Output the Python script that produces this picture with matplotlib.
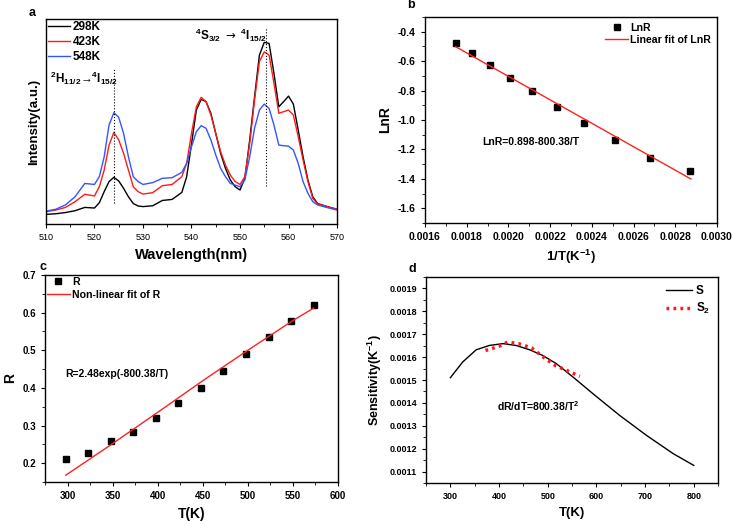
import matplotlib
matplotlib.use('Agg')
import matplotlib.pyplot as plt
from matplotlib.ticker import MultipleLocator, NullLocator, FormatStrFormatter

plt.rcParams['font.family'] = ['Liberation Sans', 'DejaVu Sans']
plt.rcParams['mathtext.fontset'] = 'custom'
plt.rcParams['mathtext.rm'] = 'Liberation Sans'
plt.rcParams['mathtext.bf'] = 'Liberation Sans:bold'
plt.rcParams['mathtext.default'] = 'regular'
plt.rcParams['axes.linewidth'] = 1.0

# --- panel a: emission spectra
wl = [510, 512, 514, 516, 518, 520, 521, 522, 523, 524, 525, 526, 527, 528, 529, 530,
      532, 534, 536, 538, 539, 540, 541, 542, 543, 544, 545, 546, 547, 548, 549, 550,
      551, 552, 553, 554, 555, 556, 557, 558, 559, 560, 561, 562, 563, 564, 565, 566, 568, 570]
i298 = [4.7, 5.0, 5.6, 6.5, 8.1, 7.8, 10.4, 15.8, 20.7, 22.8, 21.0, 17.4, 13.3, 10.0, 8.8, 8.5,
        8.9, 11.5, 12.0, 15.4, 23.0, 39.0, 55.6, 60.8, 59.7, 54.0, 44.2, 34.5, 27.2, 21.5, 18.2, 16.6,
        22.3, 41.0, 62.0, 82.4, 88.6, 88.1, 73.5, 57.2, 59.7, 62.4, 58.5, 45.9, 32.8, 21.5, 13.3, 10.0, 8.5, 7.2]
i423 = [6.0, 6.8, 8.1, 10.9, 14.5, 13.7, 18.2, 26.3, 38.5, 44.7, 41.0, 34.5, 26.3, 18.2, 15.8, 14.6,
        15.3, 18.7, 19.3, 23.1, 29.6, 44.2, 57.2, 61.8, 59.7, 53.2, 44.2, 35.3, 28.8, 23.9, 20.7, 19.3,
        23.1, 39.3, 60.5, 79.2, 84.0, 82.4, 68.6, 54.0, 54.8, 55.6, 53.2, 42.6, 31.2, 20.7, 12.5, 9.8, 8.5, 7.2]
i548 = [6.3, 7.2, 9.3, 13.3, 19.8, 19.3, 23.1, 32.8, 48.3, 54.3, 52.0, 44.2, 32.8, 23.1, 20.7, 19.3,
        20.2, 22.3, 22.6, 25.2, 29.6, 37.7, 45.0, 48.0, 46.7, 41.0, 33.7, 27.2, 23.1, 19.8, 19.0, 18.2,
        21.5, 32.8, 46.7, 55.6, 58.5, 56.4, 48.3, 38.5, 38.2, 38.0, 36.1, 29.6, 20.7, 15.0, 10.9, 9.3, 8.0, 6.8]

# --- panel b: ln R vs 1/T
inv_t = [0.001747, 0.001827, 0.001914, 0.002008, 0.002115, 0.002234, 0.002363, 0.002512, 0.002680, 0.002872]
ln_r = [-0.475, -0.547, -0.624, -0.712, -0.805, -0.910, -1.018, -1.136, -1.258, -1.349]
fit_inv_t = [0.001747, 0.002875]
fit_ln_r = [-0.502, -1.401]

# --- panel c: R vs T
temp = [298, 323, 348, 373, 398, 423, 448, 473, 498, 523, 548, 573]
ratio = [0.212, 0.226, 0.259, 0.283, 0.321, 0.360, 0.401, 0.446, 0.490, 0.534, 0.579, 0.621]
fit_temp = [298, 350, 400, 450, 500, 550, 573]
fit_ratio = [0.168, 0.252, 0.335, 0.419, 0.500, 0.579, 0.612]

# --- panel d: sensitivity
s_temp = [300, 325, 353, 380, 408, 435, 463, 490, 518, 552, 593, 648, 703, 758, 800]
s_val = [0.00151, 0.001578, 0.001632, 0.001651, 0.001659, 0.001651, 0.001632, 0.001607,
         0.001571, 0.001513, 0.00144, 0.001345, 0.001258, 0.001178, 0.001127]
s2_temp = [372, 400, 418, 440, 467, 491, 515, 542, 566]
s2_val = [0.001629, 0.001647, 0.001666, 0.001659, 0.00164, 0.0016, 0.001564, 0.001539, 0.001516]

fig = plt.figure(figsize=(7.32, 5.21), dpi=100)
ax_a = fig.add_axes([0.0628, 0.570, 0.3976, 0.3935])
ax_b = fig.add_axes([0.5806, 0.572, 0.3989, 0.3954])
ax_c = fig.add_axes([0.0615, 0.0749, 0.4002, 0.3973])
ax_d = fig.add_axes([0.582, 0.0729, 0.399, 0.3954])

def style_ticks(ax, size, bold=True):
    ax.tick_params(which='major', labelsize=size, direction='out', length=3, width=0.8)
    ax.tick_params(which='minor', direction='out', length=2, width=0.6)
    if bold:
        for lab in ax.get_xticklabels() + ax.get_yticklabels():
            lab.set_fontweight('bold')

note_kw = dict(fontsize=7.5, fontweight='bold', va='center')

# a
ax_a.plot(wl, i298, color='black', lw=1.0, label='298K')
ax_a.plot(wl, i423, color='#ff1a1a', lw=1.0, label='423K')
ax_a.plot(wl, i548, color='#3355ff', lw=1.0, label='548K')
ax_a.plot([524, 524], [10.4, 76], color='black', lw=0.8, ls=':')
ax_a.plot([555.3, 555.3], [18.7, 96], color='black', lw=0.8, ls=':')
ax_a.set_xlim(510, 570)
ax_a.set_ylim(0, 100)
ax_a.xaxis.set_major_locator(MultipleLocator(10))
ax_a.xaxis.set_minor_locator(MultipleLocator(5))
ax_a.yaxis.set_major_locator(NullLocator())
ax_a.set_xlabel('Wavelength(nm)', fontsize=10.5, fontweight='bold')
ax_a.set_ylabel('Intensity(a.u.)', fontsize=9.5, fontweight='bold')
ax_a.text(510.9, 71, r'$^{2}$H$_{11/2}$→$^{4}$I$_{15/2}$', fontsize=8.5, va='center', fontweight='bold')
ax_a.text(540.8, 92, r'$^{4}$S$_{3/2}$ $\mathsf{\to}$ $^{4}$I$_{15/2}$', fontsize=8.5, va='center', fontweight='bold')
ax_a.legend(loc='upper left', frameon=False, handlelength=1.8, borderaxespad=0.1, borderpad=0.1,
            labelspacing=0.25, handletextpad=0.25, prop={'weight': 'bold', 'size': 8.5})
ax_a.text(-0.06, 1.0, 'a', transform=ax_a.transAxes, fontsize=9, fontweight='bold', va='bottom')
style_ticks(ax_a, 6.5, bold=False)

# b
ax_b.plot(inv_t, ln_r, 's', color='black', ms=4.5, label='LnR')
ax_b.plot(fit_inv_t, fit_ln_r, color='#ff2020', lw=1.0, label='Linear fit of LnR')
ax_b.set_xlim(0.0016, 0.0030)
ax_b.set_ylim(-1.7, -0.3)
ax_b.xaxis.set_major_locator(MultipleLocator(0.0002))
ax_b.xaxis.set_minor_locator(MultipleLocator(0.0001))
ax_b.yaxis.set_major_locator(MultipleLocator(0.2))
ax_b.yaxis.set_minor_locator(MultipleLocator(0.1))
ax_b.xaxis.set_major_formatter(FormatStrFormatter('%.4f'))
ax_b.yaxis.set_major_formatter(FormatStrFormatter('%.1f'))
ax_b.set_xlabel(r'1/T(K$^{\mathbf{-1}}$)', fontsize=9.5, fontweight='bold')
ax_b.set_ylabel('LnR', fontsize=10, fontweight='bold')
ax_b.text(0.001875, -1.147, 'LnR=0.898-800.38/T', **note_kw)
ax_b.legend(loc='upper right', frameon=False, handlelength=2.2, borderaxespad=0.15,
            labelspacing=0.2, handletextpad=0.2, prop={'weight': 'bold', 'size': 7.6})
ax_b.text(-0.06, 1.03, 'b', transform=ax_b.transAxes, fontsize=9, fontweight='bold', va='bottom')
style_ticks(ax_b, 7.5)

# c
ax_c.plot(temp, ratio, 's', color='black', ms=4.5, label='R')
ax_c.plot(fit_temp, fit_ratio, color='#ff2020', lw=1.0, label='Non-linear fit of R')
ax_c.set_xlim(275, 600)
ax_c.set_ylim(0.15, 0.7)
ax_c.xaxis.set_major_locator(MultipleLocator(50))
ax_c.xaxis.set_minor_locator(MultipleLocator(25))
ax_c.yaxis.set_major_locator(MultipleLocator(0.1))
ax_c.yaxis.set_minor_locator(MultipleLocator(0.05))
ax_c.yaxis.set_major_formatter(FormatStrFormatter('%.1f'))
ax_c.set_xlabel('T(K)', fontsize=10, fontweight='bold')
ax_c.set_ylabel('R', fontsize=10, fontweight='bold')
ax_c.text(298, 0.438, 'R=2.48exp(-800.38/T)', **note_kw)
ax_c.legend(loc='upper left', frameon=False, handlelength=2.2, borderaxespad=0.05, borderpad=0.1,
            labelspacing=0.3, handletextpad=0.2, prop={'weight': 'bold', 'size': 7.6})
ax_c.text(-0.02, 1.01, 'c', transform=ax_c.transAxes, fontsize=9, fontweight='bold', va='bottom')
style_ticks(ax_c, 7)

# d
ax_d.plot(s_temp, s_val, color='black', lw=1.0, label='S')
ax_d.plot(s2_temp, s2_val, color='#ff1a1a', lw=2.5, ls=(0, (0.8, 1.2)), label='S$_{2}$')
ax_d.set_xlim(250, 850)
ax_d.set_ylim(0.00105, 0.00195)
ax_d.xaxis.set_major_locator(MultipleLocator(100))
ax_d.xaxis.set_minor_locator(MultipleLocator(50))
ax_d.yaxis.set_major_locator(MultipleLocator(0.0001))
ax_d.yaxis.set_minor_locator(MultipleLocator(0.00005))
ax_d.yaxis.set_major_formatter(FormatStrFormatter('%.4f'))
ax_d.set_xlabel('T(K)', fontsize=9.5, fontweight='bold')
ax_d.set_ylabel(r'Sensitivity(K$^{\mathbf{-1}}$)', fontsize=9, fontweight='bold')
ax_d.text(396, 0.001384, r'dR/dT=800.38/T$^{2}$', **note_kw)
ax_d.legend(loc='upper right', frameon=False, handlelength=2.2, borderaxespad=0.3,
            labelspacing=0.3, handletextpad=0.3, prop={'weight': 'bold', 'size': 8.5})
ax_d.text(-0.06, 1.01, 'd', transform=ax_d.transAxes, fontsize=9, fontweight='bold', va='bottom')
style_ticks(ax_d, 6.5)

fig.savefig('out.png', dpi=100)
